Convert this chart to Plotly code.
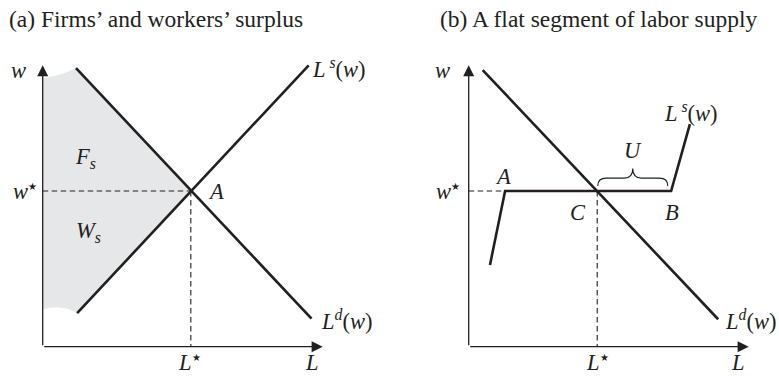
import plotly.graph_objects as go

# ---------------- data (labour L on x, wage w on y) ----------------
# panel (a): firms' and workers' surplus
a_demand_L = [1.19, 9.60]
a_demand_w = [9.95, 1.00]
a_supply_L = [1.23, 9.50]
a_supply_w = [1.20, 10.05]
a_eq_L, a_eq_w = 5.29, 5.56
# torn edges that close the shaded surplus region against the w axis
a_top_edge_L = [0.00, 0.30, 0.56, 0.86, 1.19]
a_top_edge_w = [9.58, 9.63, 9.70, 9.80, 9.95]
a_bottom_edge_L = [1.23, 1.15, 0.86, 0.56, 0.26, 0.00]
a_bottom_edge_w = [1.20, 1.24, 1.36, 1.41, 1.39, 1.33]

# panel (b): a flat segment of labour supply
b_demand_L = [0.50, 8.91]
b_demand_w = [9.88, 0.98]
b_supply_L = [0.76, 1.30, 7.23, 7.90]
b_supply_w = [2.92, 5.56, 5.56, 7.95]
b_eq_L, b_eq_w = 4.59, 5.56

axis_len_L = 10.0
axis_len_w = 10.05

# ---------------- layout geometry ----------------
W, H = 779, 377
SCALE = 28.0           # pixels per unit
ORIGIN_Y = 346.7       # pixel row of the L axis
ORIGIN_XA = 42.7       # pixel column of the w axis, panel (a)
ORIGIN_XB = 468.7      # pixel column of the w axis, panel (b)
SPLIT = 389.5

INK = "#231f20"
SHADE = "#e6e7e8"
SERIF = "Liberation Serif, Times New Roman, serif"
MATH_SIZE = 22.5
TITLE_SIZE = 23.5


def xrange_for(px0, px1, origin):
    return [(px0 - origin) / SCALE, (px1 - origin) / SCALE]


fig = go.Figure()

# shaded surplus region (a)
poly_L = a_top_edge_L + [a_eq_L] + a_bottom_edge_L
poly_w = a_top_edge_w + [a_eq_w] + a_bottom_edge_w
fig.add_trace(go.Scatter(x=poly_L, y=poly_w, fill="toself", fillcolor=SHADE,
                         mode="lines", line=dict(width=0), hoverinfo="skip",
                         xaxis="x", yaxis="y"))

dash = dict(color=INK, width=1.1, dash="5.5px,3.5px")
curve = dict(color=INK, width=2.6)

# panel (a) guide lines and curves
fig.add_trace(go.Scatter(x=[0, a_eq_L], y=[a_eq_w, a_eq_w], mode="lines",
                         line=dash, xaxis="x", yaxis="y"))
fig.add_trace(go.Scatter(x=[a_eq_L, a_eq_L], y=[a_eq_w, 0], mode="lines",
                         line=dash, xaxis="x", yaxis="y"))
fig.add_trace(go.Scatter(x=a_demand_L, y=a_demand_w, mode="lines",
                         line=curve, xaxis="x", yaxis="y"))
fig.add_trace(go.Scatter(x=a_supply_L, y=a_supply_w, mode="lines",
                         line=curve, xaxis="x", yaxis="y"))

# panel (b) guide lines and curves
fig.add_trace(go.Scatter(x=[0, b_supply_L[1]], y=[b_eq_w, b_eq_w], mode="lines",
                         line=dash, xaxis="x2", yaxis="y"))
fig.add_trace(go.Scatter(x=[b_eq_L, b_eq_L], y=[b_eq_w, 0], mode="lines",
                         line=dash, xaxis="x2", yaxis="y"))
fig.add_trace(go.Scatter(x=b_demand_L, y=b_demand_w, mode="lines",
                         line=curve, xaxis="x2", yaxis="y"))
fig.add_trace(go.Scatter(x=b_supply_L, y=b_supply_w, mode="lines",
                         line=curve, xaxis="x2", yaxis="y"))

# curly brace over the unemployed stretch C..B
l0, l1 = b_eq_L + 0.02, b_supply_L[2] - 0.12
mid = (l0 + l1) / 2
base = b_eq_w + 0.18
arm = base + 0.28
tip = arm + 0.34
r = 0.30
brace = (f"M {l0},{base} Q {l0},{arm} {l0 + r},{arm} "
         f"L {mid - r},{arm} Q {mid},{arm} {mid},{tip} "
         f"Q {mid},{arm} {mid + r},{arm} "
         f"L {l1 - r},{arm} Q {l1},{arm} {l1},{base}")
fig.add_shape(type="path", path=brace, xref="x2", yref="y",
              line=dict(color=INK, width=1.1))

annotations = []

# axes with arrow heads
for xr in ("x", "x2"):
    annotations.append(dict(x=axis_len_L, y=0, ax=0, ay=0, xref=xr, yref="y",
                            axref=xr, ayref="y", text="", showarrow=True,
                            arrowhead=2, arrowsize=1.7, arrowwidth=1.3,
                            arrowcolor=INK, standoff=0))
    annotations.append(dict(x=0, y=axis_len_w, ax=0, ay=0, xref=xr, yref="y",
                            axref=xr, ayref="y", text="", showarrow=True,
                            arrowhead=2, arrowsize=1.7, arrowwidth=1.3,
                            arrowcolor=INK, standoff=0))


def label(text, x, y, xref, size=MATH_SIZE, xanchor="center", yanchor="middle"):
    annotations.append(dict(text=text, x=x, y=y, xref=xref, yref="y",
                            showarrow=False, xanchor=xanchor, yanchor=yanchor,
                            font=dict(family=SERIF, size=size, color=INK)))


STAR = '<sup><span style="font-size:10px">\u2605</span></sup>'
LS = "<i>L</i><sup><i> s</i></sup>(<i>w</i>)"
LD = "<i>L</i><sup><i>d</i></sup>(<i>w</i>)"
ROW_L = -0.58

# panel (a) labels
label("<i>w</i>", -0.88, 9.85, "x")
label("<i>w</i>" + STAR, -0.15, a_eq_w, "x", xanchor="right")
label("<i>F<sub>s</sub></i>", 1.52, 6.75, "x")
label("<i>W<sub>s</sub></i>", 1.62, 4.10, "x")
label("<i>A</i>", 5.82, a_eq_w, "x", xanchor="left")
label(LS, 9.55, 9.95, "x", xanchor="left")
label(LD, 9.85, 0.95, "x", xanchor="left")
label("<i>L</i>" + STAR, a_eq_L - 0.05, ROW_L, "x")
label("<i>L</i>", 9.62, ROW_L, "x")

# panel (b) labels
label("<i>w</i>", -0.92, 9.85, "x2")
label("<i>w</i>" + STAR, -0.25, b_eq_w, "x2", xanchor="right")
label("<i>A</i>", 1.22, 6.08, "x2")
label("<i>C</i>", 3.90, 4.80, "x2")
label("<i>B</i>", 7.26, 4.80, "x2")
label("<i>U</i>", mid, 7.00, "x2")
label(LS, 7.95, 8.40, "x2")
label(LD, 9.08, 0.95, "x2", xanchor="left")
label("<i>L</i>" + STAR, b_eq_L, ROW_L, "x2")
label("<i>L</i>", 9.62, ROW_L, "x2")

# panel titles
for text, xpx in (("(a) Firms\u2019 and workers\u2019 surplus", 7),
                  ("(b) A flat segment of labor supply", 438)):
    annotations.append(dict(text=text, x=xpx / W, y=1 - 19 / H, xref="paper",
                            yref="paper", showarrow=False, xanchor="left",
                            yanchor="middle",
                            font=dict(family=SERIF, size=TITLE_SIZE, color=INK)))

hidden = dict(visible=False, fixedrange=True)
fig.update_layout(
    width=W, height=H,
    margin=dict(l=0, r=0, t=0, b=0),
    paper_bgcolor="white", plot_bgcolor="white",
    showlegend=False,
    xaxis=dict(domain=[0, SPLIT / W], range=xrange_for(0, SPLIT, ORIGIN_XA),
               anchor="y", **hidden),
    xaxis2=dict(domain=[SPLIT / W, 1], range=xrange_for(SPLIT, W, ORIGIN_XB),
                anchor="y", **hidden),
    yaxis=dict(domain=[0, 1], range=[(ORIGIN_Y - H) / SCALE, ORIGIN_Y / SCALE],
               anchor="x", **hidden),
    annotations=annotations,
)

fig.write_html("out.html", config={"displayModeBar": False})
